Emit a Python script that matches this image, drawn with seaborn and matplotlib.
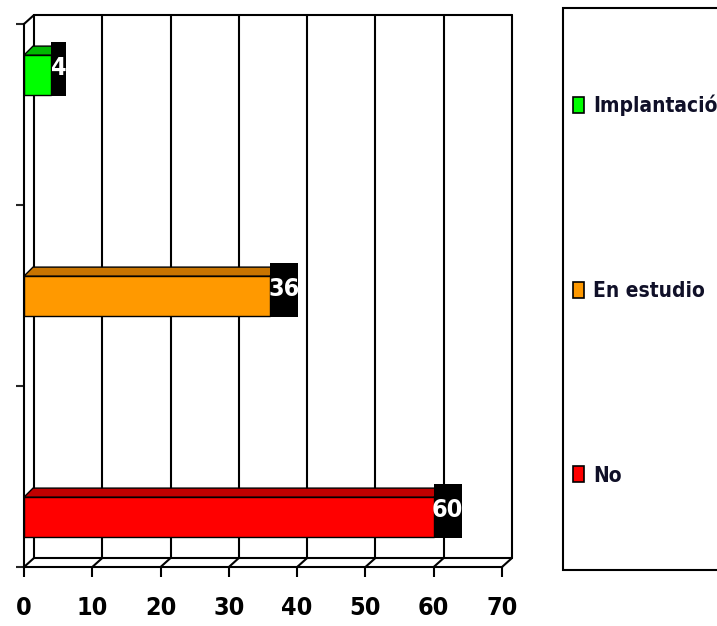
import numpy as np
import pandas as pd
import matplotlib
matplotlib.use("Agg")
import matplotlib.pyplot as plt
from matplotlib.patches import Patch, Rectangle, Polygon
import seaborn as sns

categories = ["Implantación", "En estudio", "No"]
values = [4, 36, 60]
front_colors = ["#00FF00", "#FF9900", "#FF0000"]
top_colors = ["#00B800", "#C87400", "#C00000"]
xticks = [0, 10, 20, 30, 40, 50, 60, 70]

sns.set_theme(style="white")
plt.rcParams["font.family"] = ["DejaVu Sans"]
plt.rcParams["font.stretch"] = "condensed"

W, H = 717, 626
fig = plt.figure(figsize=(W / 100, H / 100), dpi=100)
fig.patch.set_facecolor("white")

# front axis frame in pixels
px_left, px_right, px_top, px_bottom = 24, 502, 24, 567
ax = fig.add_axes([px_left / W, (H - px_bottom) / H,
                   (px_right - px_left) / W, (px_bottom - px_top) / H])
ax.set_facecolor("white")

df = pd.DataFrame({"cat": categories, "val": values})
sns.barplot(data=df, y="cat", x="val", hue="cat", palette=front_colors,
            order=categories, hue_order=categories, width=0.18,
            saturation=1, edgecolor="black", linewidth=1.0, legend=False,
            ax=ax, zorder=3)

xmax = 70
py_per_unit = 221.0
ylim_top = -(75 - px_top) / py_per_unit
ylim_bot = 2 + (px_bottom - 517) / py_per_unit
ax.set_xlim(0, xmax)
ax.set_ylim(ylim_bot, ylim_top)

dx = 10 * xmax / (px_right - px_left)
dy = 9 / py_per_unit
bw = 0.18

# back plane / walls (pseudo 3D)
lk = dict(color="black", lw=1.5, clip_on=False, zorder=1)
for t in xticks:
    ax.plot([t + dx, t + dx], [ylim_bot - dy, ylim_top - dy], **lk)
    ax.plot([t, t + dx], [ylim_bot, ylim_bot - dy], **lk)
ax.plot([dx, xmax + dx], [ylim_top - dy, ylim_top - dy], **lk)
ax.plot([dx, xmax + dx], [ylim_bot - dy, ylim_bot - dy], **lk)
ax.plot([0, dx], [ylim_top, ylim_top - dy], **lk)

# top faces and value labels
for i, (v, tc) in enumerate(zip(values, top_colors)):
    ytop = i - bw / 2
    poly = Polygon([(0, ytop), (v, ytop), (v + dx * 0.9, ytop - dy),
                    (dx * 0.9, ytop - dy)], closed=True, facecolor=tc,
                   edgecolor="black", lw=1.0, zorder=3)
    ax.add_patch(poly)
    s = str(v)
    wbox = 0.3 + 1.9 * len(s)
    ax.add_patch(Rectangle((v, i + bw / 2 + 0.005), wbox, -0.245,
                           facecolor="black", edgecolor="none", zorder=4,
                           clip_on=False))
    ax.text(v + wbox / 2, i - 0.03, s, color="white", fontsize=18,
            fontweight="bold", fontstretch="condensed",
            ha="center", va="center", zorder=5)

ax.set_xticks(xticks)
ax.set_xticklabels([str(t) for t in xticks], fontsize=18, fontweight="bold",
                   fontstretch="condensed", color="black")
ax.set_yticks(np.linspace(ylim_top, ylim_bot, 4))
ax.set_yticklabels([])
ax.set_xlabel("")
ax.set_ylabel("")
ax.tick_params(axis="x", bottom=True, direction="out", length=7, width=1.5,
               pad=14, colors="black")
ax.tick_params(axis="y", left=True, direction="out", length=6, width=1.5)
for sp in ["top", "right"]:
    ax.spines[sp].set_visible(False)
for sp in ["left", "bottom"]:
    ax.spines[sp].set_color("black")
    ax.spines[sp].set_linewidth(1.5)
    ax.spines[sp].set_zorder(2)

# legend box (extends past the right edge as in the reference)
fig.patches.append(Rectangle((563 / W, 1 - 570 / H), 200 / W, 562 / H,
                             transform=fig.transFigure, facecolor="white",
                             edgecolor="black", lw=1.5, zorder=0))
handles = [Patch(facecolor=c, edgecolor="black", lw=1.2) for c in front_colors]
leg = fig.legend(handles, categories, loc="upper left",
                 bbox_to_anchor=(573 / W, 1 - 95 / H),
                 prop={"size": 15, "weight": "bold", "stretch": "condensed"},
                 frameon=False, handlelength=0.55, handleheight=0.8,
                 handletextpad=0.4, labelspacing=7.9, borderpad=0,
                 borderaxespad=0)
for t in leg.get_texts():
    t.set_color("#101028")

fig.savefig("out.png", dpi=100, facecolor="white")
